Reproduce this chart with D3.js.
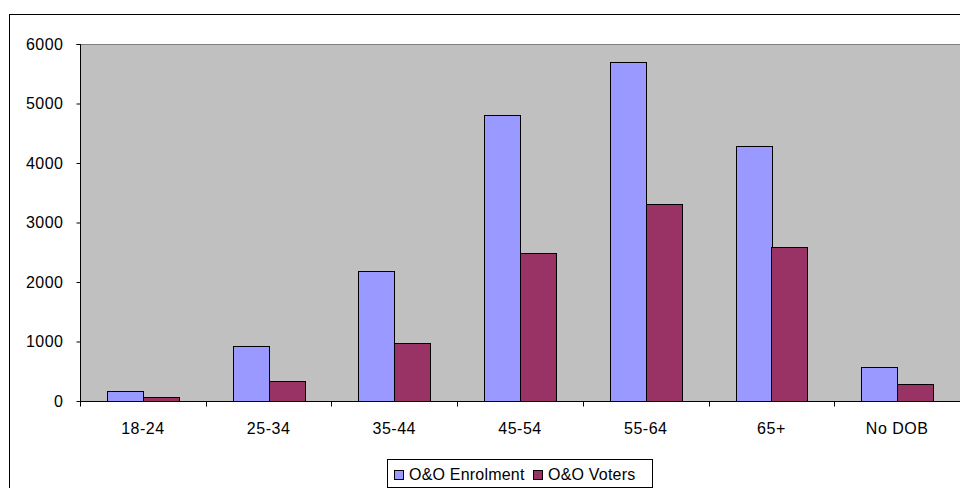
<!DOCTYPE html>
<html>
<head>
<meta charset="utf-8">
<script src="https://cdn.jsdelivr.net/npm/d3@7"></script>
<style>
  body { margin: 0; background: #fff; }
  svg { display: block; font-family: "Liberation Sans", Arial, sans-serif; }
</style>
</head>
<body>
<svg id="chart" width="960" height="488"></svg>
<script>
// Data
const categories = ['18-24', '25-34', '35-44', '45-54', '55-64', '65+', 'No DOB'];
const enrolment = [170, 930, 2180, 4810, 5690, 4290, 570];
const voters = [70, 330, 970, 2490, 3310, 2590, 290];
const seriesNames = ['O&O Enrolment', 'O&O Voters'];
const seriesColors = ['#9999ff', '#993366'];
const yTicks = [0, 1000, 2000, 3000, 4000, 5000, 6000];

const svg = d3.select('#chart');
const width = 960, height = 488;
const margin = { top: 44, right: 0, bottom: 87, left: 80 };
const innerW = width - margin.left - margin.right;
const innerH = height - margin.top - margin.bottom;
const fontSize = 16;

// chart border
svg.append('rect')
  .attr('x', 9.5).attr('y', 14.5)
  .attr('width', 970).attr('height', 500)
  .attr('fill', '#fff').attr('stroke', '#000').attr('stroke-width', 1);

const g = svg.append('g').attr('transform', `translate(${margin.left},${margin.top})`);

const x = d3.scaleBand().domain(categories).range([0, innerW]);
const y = d3.scaleLinear().domain([0, 6000]).range([innerH, 0]);
const barW = x.bandwidth() / 3.5;

// plot area
g.append('rect')
  .attr('x', 0).attr('y', 0)
  .attr('width', innerW).attr('height', innerH)
  .attr('fill', '#c0c0c0');
g.append('line')
  .attr('x1', 0).attr('x2', innerW).attr('y1', 0.5).attr('y2', 0.5)
  .attr('stroke', '#808080');

// bars
const series = [enrolment, voters];
series.forEach((vals, si) => {
  g.selectAll(`.bar-${si}`)
    .data(vals)
    .enter()
    .append('rect')
    .attr('class', `bar-${si}`)
    .attr('x', (d, i) => Math.round(x(categories[i]) + x.bandwidth() / 2 - barW + si * barW) + 0.5)
    .attr('y', d => Math.round(y(d)) + 0.5)
    .attr('width', Math.round(barW))
    .attr('height', d => Math.round(y(0)) - Math.round(y(d)))
    .attr('fill', seriesColors[si])
    .attr('stroke', '#000')
    .attr('stroke-width', 1);
});

// y axis
const yAxis = d3.axisLeft(y).tickValues(yTicks).tickFormat(d3.format('d')).tickSize(4).tickPadding(13);
const yg = g.append('g').attr('transform', 'translate(0.5,0)').call(yAxis);
yg.select('.domain').attr('stroke', '#000').attr('d', `M-4,0.5H0V${innerH}`);
yg.selectAll('text').attr('font-size', fontSize).attr('fill', '#000')
  .attr('letter-spacing', 0.5)
  .attr('font-family', '"Liberation Sans", Arial, sans-serif');

// x axis with ticks at category boundaries
const xg = g.append('g').attr('transform', `translate(0,${innerH + 0.5})`);
xg.append('line').attr('x1', 0).attr('x2', innerW).attr('stroke', '#000');
xg.selectAll('.xtick')
  .data(categories)
  .enter()
  .append('line')
  .attr('x1', d => Math.round(x(d)) + 0.5)
  .attr('x2', d => Math.round(x(d)) + 0.5)
  .attr('y1', 0).attr('y2', 5)
  .attr('stroke', '#000');
xg.selectAll('.xlabel')
  .data(categories)
  .enter()
  .append('text')
  .attr('x', d => x(d) + x.bandwidth() / 2)
  .attr('y', 32)
  .attr('text-anchor', 'middle')
  .attr('font-size', fontSize)
  .attr('letter-spacing', 0.5)
  .text(d => d);

// legend
const legend = svg.append('g');
legend.append('rect')
  .attr('x', 387.5).attr('y', 459.5)
  .attr('width', 265).attr('height', 28)
  .attr('fill', '#fff').attr('stroke', '#000');
const legendX = [394, 533];
seriesNames.forEach((name, i) => {
  legend.append('rect')
    .attr('x', legendX[i] + 0.5).attr('y', 470.5)
    .attr('width', 9).attr('height', 9)
    .attr('fill', seriesColors[i]).attr('stroke', '#000');
  legend.append('text')
    .attr('x', legendX[i] + 15).attr('y', 480)
    .attr('font-size', fontSize)
    .attr('letter-spacing', 0.2)
    .text(name);
});
</script>
</body>
</html>
